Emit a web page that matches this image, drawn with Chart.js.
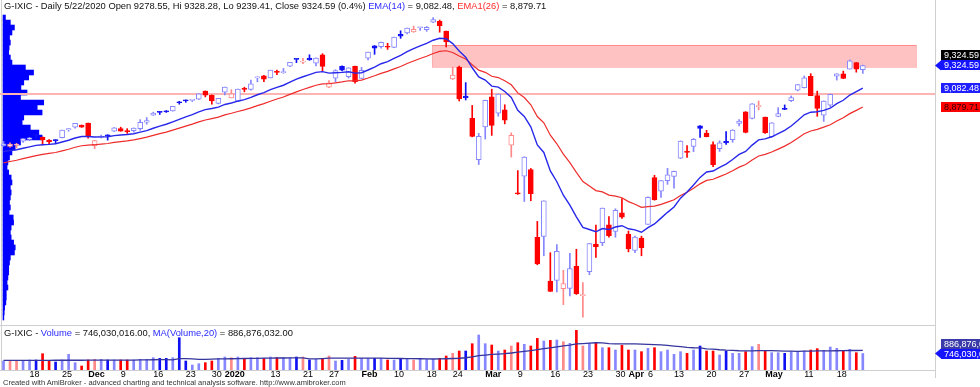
<!DOCTYPE html>
<html>
<head>
<meta charset="utf-8">
<title>G-IXIC Daily</title>
<script src="https://cdn.jsdelivr.net/npm/chart.js@4.4.1/dist/chart.umd.min.js"></script>
<style>
  body { margin: 0; background: #fff; }
  #wrap { position: relative; width: 980px; height: 387px; overflow: hidden;
          font-family: "Liberation Sans", Arial, sans-serif; }
  .pane { position: absolute; left: 0; }
  .title { position: absolute; left: 4px; font-size: 9.35px; line-height: 10px; color: #111; white-space: nowrap; }
  .rule { position: absolute; background: #cfcfcf; }
  .blue { color: #2a2aff; }
  .red  { color: #ff2a2a; }
  #footer { position: absolute; left: 3px; top: 379px; font-size: 7.5px; line-height: 8px; color: #333; white-space: nowrap; }
</style>
</head>
<body>
<div id="wrap">
  <div class="rule" style="left:1px;top:0;width:1px;height:370px"></div>
  <div class="rule" style="left:935px;top:0;width:1px;height:378px"></div>
  <div class="rule" style="left:0;top:325px;width:935px;height:1px"></div>
  <div class="rule" style="left:0;top:370px;width:935px;height:1px"></div>

  <div class="pane" style="top:12px"><canvas id="profile" width="980" height="310"></canvas></div>
  <div class="pane" style="top:12px"><canvas id="price" width="980" height="310"></canvas></div>
  <div class="pane" style="top:326px"><canvas id="volume" width="980" height="53"></canvas></div>

  <div class="title" id="priceTitle" style="top:1px"></div>
  <div class="title" style="top:328px">G-IXIC - <span class="blue">Volume</span> = 746,030,016.00, <span class="blue">MA(Volume,20)</span> = 886,876,032.00</div>
  <div id="footer">Created with AmiBroker - advanced charting and technical analysis software. http://www.amibroker.com</div>
</div>

<script>
/* ── Data ── */
const dates = [
  '11/12','11/13','11/14','11/15','11/18','11/19','11/20','11/21','11/22','11/25','11/26','11/27','11/29',
  '12/2','12/3','12/4','12/5','12/6','12/9','12/10','12/11','12/12','12/13','12/16','12/17','12/18','12/19','12/20','12/23','12/24','12/26','12/27','12/30','12/31',
  '1/2','1/3','1/6','1/7','1/8','1/9','1/10','1/13','1/14','1/15','1/16','1/17','1/21','1/22','1/23','1/24','1/27','1/28','1/29','1/30','1/31',
  '2/3','2/4','2/5','2/6','2/7','2/10','2/11','2/12','2/13','2/14','2/18','2/19','2/20','2/21','2/24','2/25','2/26','2/27','2/28',
  '3/2','3/3','3/4','3/5','3/6','3/9','3/10','3/11','3/12','3/13','3/16','3/17','3/18','3/19','3/20','3/23','3/24','3/25','3/26','3/27','3/30','3/31',
  '4/1','4/2','4/3','4/6','4/7','4/8','4/9','4/13','4/14','4/15','4/16','4/17','4/20','4/21','4/22','4/23','4/24','4/27','4/28','4/29','4/30',
  '5/1','5/4','5/5','5/6','5/7','5/8','5/11','5/12','5/13','5/14','5/15','5/18','5/19','5/20','5/21','5/22'
];

const opens = [
  8466,8457,8470,8515,8533,8577,8556,8527,8528,8551,
  8634,8665,8685,8707,8465,8558,8580,8621,8648,8622,
  8626,8649,8717,8793,8829,8836,8838,8930,8950,8950,
  8963,9050,9005,8919,9039,8977,8944,9071,9069,9190,
  9213,9191,9253,9248,9316,9392,9360,9403,9350,9438,
  9093,9189,9315,9204,9315,9187,9403,9536,9527,9527,
  9518,9659,9673,9683,9728,9708,9788,9798,9692,9180,
  9306,8998,8758,8316,8667,8988,8815,8850,8470,7960,
  8139,8211,7484,7494,7016,7024,6934,6937,7175,6861,
  7117,7413,7427,7618,7549,7747,7519,7344,7476,7622,
  8124,7979,8092,8136,8331,8396,8457,8677,8602,8477,
  8435,8513,8529,8703,8829,8757,8884,8773,8563,8780,
  8863,8947,9060,9086,9209,9002,8792,8900,9211,9234,
  9286,9356,9278.55
];
const highs = [
  8511,8496,8491,8541,8554,8590,8560,8531,8530,8633,
  8648,8706,8687,8709,8523,8580,8583,8660,8664,8648,
  8656,8744,8767,8824,8830,8842,8887,8941,8956,8953,
  9023,9052,9009,8973,9093,9065,9072,9092,9168,9204,
  9219,9274,9275,9293,9358,9393,9401,9439,9405,9451,
  9163,9279,9320,9300,9317,9303,9468,9538,9574,9562,
  9629,9696,9725,9746,9732,9742,9838,9811,9693,9307,
  9318,9141,8897,8597,8953,9070,9019,8904,8603,8199,
  8347,8222,7655,7875,7320,7407,7131,7314,7357,6999,
  7419,7615,7798,7706,7790,7900,7552,7497,7497,7919,
  8149,8091,8224,8195,8517,8466,8543,8680,8630,8508,
  8518,8618,8637,8744,8830,8916,8944,8773,8712,8873,
  8902,8998,9122,9212,9237,9050,8946,9018,9236,9264,
  9384,9357,9328.28
];
const lows = [
  8459,8451,8443,8502,8520,8543,8475,8478,8489,8550,
  8621,8654,8661,8546,8435,8549,8525,8618,8620,8597,
  8611,8631,8696,8790,8800,8822,8835,8910,8931,8938,
  8960,8988,8910,8913,9010,8977,8943,9042,9059,9149,
  9150,9190,9225,9241,9311,9355,9345,9380,9320,9263,
  9088,9151,9266,9190,9134,9184,9383,9444,9509,9497,
  9514,9615,9661,9680,9701,9690,9784,9681,9522,9173,
  8944,8955,8560,8264,8537,8576,8782,8699,8344,7944,
  7868,7876,7191,7287,6904,6900,6764,6858,6873,6631,
  7084,7269,7396,7485,7485,7687,7329,7319,7287,7622,
  7882,7913,8052,8012,8328,8340,8402,8555,8560,8242,
  8404,8480,8502,8676,8603,8753,8849,8598,8555,8776,
  8851,8938,9052,9083,9001,8780,8726,8882,9168,9183,
  9286,9253,9239.41
];
const closes = [
  8486,8482,8479,8541,8550,8571,8527,8506,8520,8632,
  8648,8705,8665,8568,8521,8567,8571,8657,8622,8616,
  8654,8717,8735,8815,8823,8827,8887,8925,8945,8952,
  9022,9007,8945,8973,9093,9021,9071,9069,9129,9203,
  9179,9274,9251,9259,9357,9389,9370,9383,9403,9315,
  9139,9270,9275,9299,9151,9273,9467,9509,9572,9520,
  9629,9638,9725,9712,9731,9733,9817,9751,9577,9221,
  8966,8980,8566,8567,8952,8684,9019,8738,8576,7950,
  8344,7953,7201,7875,6905,7335,6990,7151,6880,6861,
  7418,7385,7798,7502,7774,7700,7361,7487,7373,7913,
  7887,8091,8153,8192,8516,8394,8533,8650,8561,8263,
  8495,8495,8634,8730,8608,8915,8890,8605,8711,8810,
  8855,8980,9121,9192,9002,8864,8943,9015,9234,9185,
  9375,9284,9324.59
];

// EMA(14) and EMA1(26) as plotted
const ema14 = [
  8403,8413,8422,8438,8453,8469,8476,8480,8486,8505,
  8524,8548,8564,8564,8559,8560,8561,8574,8580,8585,
  8594,8611,8627,8652,8675,8695,8721,8748,8774,8798,
  8828,8852,8864,8879,8907,8923,8942,8959,8982,9011,
  9034,9066,9090,9113,9145,9178,9204,9227,9251,9259,
  9243,9247,9251,9257,9243,9247,9276,9307,9343,9366,
  9401,9433,9472,9504,9534,9561,9595,9616,9611,9559,
  9480,9413,9300,9202,9169,9104,9093,9046,8983,8845,
  8779,8668,8473,8393,8195,8080,7935,7830,7704,7591,
  7568,7544,7578,7568,7595,7609,7576,7564,7539,7588,
  7628,7690,7752,7810,7904,7970,8045,8126,8184,8194,
  8234,8269,8318,8373,8404,8472,8528,8538,8561,8595,
  8629,8676,8735,8796,8824,8829,8844,8867,8916,8952,
  9008,9045,9082.48
];
const ema26 = [
  8281,8296,8310,8327,8343,8360,8373,8383,8393,8410,
  8428,8449,8465,8472,8476,8483,8489,8502,8510,8518,
  8528,8542,8557,8576,8594,8611,8632,8653,8675,8696,
  8720,8741,8756,8772,8796,8813,8832,8849,8870,8895,
  8916,8942,8965,8987,9015,9042,9067,9090,9113,9128,
  9129,9139,9149,9161,9160,9168,9190,9214,9240,9261,
  9288,9314,9345,9372,9399,9423,9453,9475,9482,9463,
  9426,9393,9332,9275,9251,9209,9195,9161,9118,9031,
  8981,8904,8778,8711,8578,8486,8375,8284,8180,8082,
  8033,7985,7971,7937,7925,7908,7867,7839,7805,7813,
  7818,7838,7862,7886,7933,7967,8009,8057,8094,8106,
  8135,8162,8197,8236,8264,8312,8355,8373,8398,8429,
  8461,8499,8545,8593,8623,8641,8664,8690,8730,8764,
  8809,8844,8879.71
];

// Volume, millions of shares
const volumes = [
  407,407,437,422,452,452,738,407,362,452,
  708,331,181,452,482,482,452,452,452,452,
  452,482,482,557,527,527,557,1461,407,226,
  286,331,407,527,588,557,588,527,557,557,
  527,588,557,557,557,588,588,452,482,527,
  633,407,437,482,618,527,527,527,527,452,
  452,482,527,452,482,482,482,527,633,753,
  859,859,1190,1582,1190,1130,859,904,1085,1235,
  1160,1085,1431,1311,1341,1356,1281,1205,1793,1085,
  1205,1235,1009,1009,904,1115,904,904,829,979,
  1009,829,904,708,829,753,904,1085,859,859,
  678,859,753,753,829,1055,1160,859,783,783,
  753,829,829,859,904,964,889,1040,979,889,
  934,783,746.030016
];
const volumeMA = [
  434,435,435,436,436,437,438,439,440,440,
  441,442,442,443,444,445,446,447,448,449,
  451,455,457,464,468,472,462,515,517,506,
  485,485,496,500,505,509,516,520,525,530,
  534,539,543,543,544,548,549,499,502,517,
  535,539,540,538,539,538,535,535,533,528,
  524,519,517,512,508,503,498,502,509,520,
  532,554,592,647,676,706,722,741,769,808,
  844,874,919,962,1005,1049,1089,1122,1180,1197,
  1214,1233,1224,1195,1181,1180,1183,1183,1170,1157,
  1150,1137,1110,1080,1055,1024,1006,1000,953,942,
  915,896,884,871,867,864,877,875,872,863,
  850,850,846,854,857,868,867,865,871,872,
  885,881,886.876032
];

// date-axis labels
const tickDates = ['11/18','11/25','12/2','12/9','12/16','12/23','12/30','1/2','1/13','1/21','1/27',
  '2/3','2/10','2/18','2/24','3/2','3/9','3/16','3/23','3/30','4/1','4/6','4/13','4/20','4/27','5/1','5/11','5/18'];
const tickText  = ['18','25','Dec','9','16','23','30','2020','13','21','27',
  'Feb','10','18','24','Mar','9','16','23','30','Apr','6','13','20','27','May','11','18'];

// volume-at-price profile (left edge): price levels and relative volume
const profileLevels = [
  9838,9784,9731,9677,9624,9570,9517,9463,9410,9356,9303,9249,9196,9142,9089,9035,8982,8928,8875,8821,
  8767,8714,8660,8607,8553,8500,8446,8393,8339,8286,8232,8179,8125,8072,8018,7965,7911,7857,7804,7750,
  7697,7643,7590,7536,7483,7429,7376,7322,7268,7215,7161,7108,7054,7001,6947,6894,6840,6787,6733,6680,6626
];
const profileVolume = [
  6,18,28,22,16,18,15,14,18,22,55,75,63,51,44,59,43,100,84,96,
  51,47,67,88,96,43,30,22,16,12,10,14,20,22,18,20,18,16,18,15,
  25,26,20,18,20,26,30,28,18,16,14,14,12,10,12,8,8,7,4,3,2
];

// shaded zone and horizontal level
const zoneFrom = 65.85, zoneTo = 140.2, zoneLow = 9308, zoneHigh = 9544;
const levelPrice = 9020;

/* ── Layout constants ── */
const X_MIN = -0.54, X_MAX = 143.09;
const P_MIN = 6578, P_MAX = 9897;
const VOL_MAX = 1990;
const PROF_MIN = -7.4, PROF_MAX = 2290;
const FONT = '"Liberation Sans", Arial, sans-serif';

const LIGHT_BLUE = '#8686ff', DARK_BLUE = '#1010f4', LIGHT_RED = '#ff8888', DARK_RED = '#ff0000';

const idx = dates.map((d, i) => i);
const N = idx.length;

function barColor(i) {
  const prev = i > 0 ? closes[i - 1] : opens[i];
  const up = closes[i] >= prev;
  const hollow = closes[i] >= opens[i];
  if (up) return hollow ? LIGHT_BLUE : DARK_BLUE;
  return hollow ? LIGHT_RED : DARK_RED;
}

const fmt2 = v => v.toLocaleString('en-US', { minimumFractionDigits: 2, maximumFractionDigits: 2 });

/* ── Titles ── */
const last = N - 1;
const pct = ((closes[last] / closes[last - 1] - 1) * 100).toFixed(1);
document.getElementById('priceTitle').innerHTML =
  `G-IXIC - Daily 5/22/2020 Open ${opens[last]}, Hi ${highs[last]}, Lo ${lows[last]}, Close ${closes[last]} (${pct}%) ` +
  `<span class="blue">EMA(14)</span> = ${fmt2(ema14[last])}, <span class="red">EMA1(26)</span> = ${fmt2(ema26[last])}`;

/* ── Value tags on the right ── */
function tag(ctx, left, yc, text, bg, fg, arrow) {
  const h = 10;
  ctx.fillStyle = bg;
  ctx.fillRect(left, Math.round(yc - h / 2), 80, h);
  if (arrow) {
    ctx.beginPath();
    ctx.moveTo(left - 6, yc);
    ctx.lineTo(left, yc - h / 2);
    ctx.lineTo(left, yc + h / 2);
    ctx.closePath();
    ctx.fill();
  }
  ctx.fillStyle = fg;
  ctx.font = '9px ' + FONT;
  ctx.textBaseline = 'middle';
  ctx.textAlign = 'left';
  ctx.fillText(text, left + 3, Math.round(yc - h / 2) + h / 2 + 0.5);
}

const zonePlugin = {
  id: 'zone',
  beforeDatasetsDraw(chart) {
    const { ctx, scales: { x, y } } = chart;
    const x0 = x.getPixelForValue(zoneFrom), x1 = x.getPixelForValue(zoneTo);
    const y0 = y.getPixelForValue(zoneHigh), y1 = y.getPixelForValue(zoneLow);
    ctx.save();
    ctx.fillStyle = '#ffc2c2';
    ctx.fillRect(x0, y0, x1 - x0, y1 - y0);
    ctx.strokeStyle = '#ff8a8a';
    ctx.lineWidth = 1;
    ctx.setLineDash([1, 1]);
    ctx.strokeRect(Math.round(x0) + 0.5, Math.round(y0) + 0.5, Math.round(x1 - x0), Math.round(y1 - y0));
    ctx.setLineDash([]);
    ctx.beginPath();
    ctx.moveTo(x0, Math.round(y0) + 0.5);
    ctx.lineTo(x1, Math.round(y0) + 0.5);
    ctx.stroke();
    ctx.restore();
  }
};

const priceTags = {
  id: 'priceTags',
  afterDraw(chart) {
    const { ctx, chartArea, scales: { y } } = chart;
    const left = chartArea.right + 6;
    ctx.save();
    const yc = y.getPixelForValue(closes[last]);
    tag(ctx, left, yc - 10, fmt2(closes[last]), '#000000', '#ffffff', false);
    tag(ctx, left, yc, fmt2(closes[last]), '#1414ff', '#ffffff', true);
    tag(ctx, left, y.getPixelForValue(ema14[last]), fmt2(ema14[last]), '#1f1fff', '#ffffff', false);
    tag(ctx, left, y.getPixelForValue(ema26[last]), fmt2(ema26[last]), '#ff0000', '#300000', false);
    ctx.restore();
  }
};

const volumeTags = {
  id: 'volumeTags',
  afterDraw(chart) {
    const { ctx, chartArea, scales: { y } } = chart;
    const left = chartArea.right + 6;
    ctx.save();
    const yv = y.getPixelForValue(volumes[last]);
    const ym = Math.min(y.getPixelForValue(volumeMA[last]), yv - 10);
    tag(ctx, left, ym, fmt2(volumeMA[last] * 1e6), '#3a3aa8', '#ffffff', false);
    tag(ctx, left, yv, fmt2(volumes[last] * 1e6), '#1414ff', '#ffffff', true);
    ctx.restore();
  }
};

/* ── Volume-at-price profile ── */
new Chart(document.getElementById('profile'), {
  type: 'bar',
  data: {
    datasets: [{
      data: profileLevels.map((p, i) => ({ y: p, x: profileVolume[i] })),
      backgroundColor: '#0000ff',
      borderWidth: 0,
      barPercentage: 1,
      categoryPercentage: 1
    }]
  },
  options: {
    indexAxis: 'y',
    responsive: false,
    animation: false,
    layout: { padding: { left: 0, right: 45, top: 0, bottom: 0 } },
    plugins: { legend: { display: false }, tooltip: { enabled: false } },
    scales: {
      y: { type: 'linear', min: P_MIN, max: P_MAX, offset: false, display: false },
      x: { type: 'linear', min: PROF_MIN, max: PROF_MAX, display: false }
    }
  }
});

/* ── Price chart ── */
new Chart(document.getElementById('price'), {
  type: 'bar',
  data: {
    datasets: [
      {
        type: 'line', label: 'EMA(14)', order: 0,
        data: idx.map(i => ({ x: i, y: ema14[i] })),
        borderColor: '#2828ea', borderWidth: 1.4, pointRadius: 0, tension: 0
      },
      {
        type: 'line', label: 'EMA1(26)', order: 0,
        data: idx.map(i => ({ x: i, y: ema26[i] })),
        borderColor: '#ee2c2c', borderWidth: 1.2, pointRadius: 0, tension: 0
      },
      {
        type: 'bar', label: 'body', order: 1, grouped: false,
        barThickness: 5, minBarLength: 1,
        data: idx.map(i => ({ x: i, y: [opens[i], closes[i]] })),
        backgroundColor: idx.map(i => closes[i] >= opens[i] ? '#ffffff' : barColor(i)),
        borderColor: idx.map(barColor),
        borderWidth: 1, borderSkipped: false
      },
      {
        type: 'bar', label: 'wick', order: 2, grouped: false,
        barThickness: 1,
        data: idx.map(i => ({ x: i, y: [lows[i], highs[i]] })),
        backgroundColor: idx.map(barColor),
        borderWidth: 0
      },
      {
        type: 'line', label: 'level', order: 3,
        data: [{ x: X_MIN, y: levelPrice }, { x: X_MAX, y: levelPrice }],
        borderColor: '#ffb4b4', borderWidth: 2, pointRadius: 0
      }
    ]
  },
  options: {
    responsive: false,
    animation: false,
    layout: { padding: { left: 0, right: 45, top: 0, bottom: 0 } },
    plugins: { legend: { display: false }, tooltip: { enabled: false } },
    scales: {
      x: { type: 'linear', min: X_MIN, max: X_MAX, offset: false, display: false },
      y: { type: 'linear', min: P_MIN, max: P_MAX, display: false }
    }
  },
  plugins: [zonePlugin, priceTags]
});

/* ── Volume chart ── */
const tickIdx = tickDates.map(d => dates.indexOf(d));

new Chart(document.getElementById('volume'), {
  type: 'bar',
  data: {
    datasets: [
      {
        type: 'line', label: 'MA(Volume,20)', order: 0,
        data: idx.map(i => ({ x: i, y: volumeMA[i] })),
        borderColor: '#35359e', borderWidth: 1.3, pointRadius: 0, tension: 0
      },
      {
        type: 'bar', label: 'Volume', order: 1, grouped: false,
        barThickness: 2,
        data: idx.map(i => ({ x: i, y: volumes[i] })),
        backgroundColor: idx.map(barColor),
        borderWidth: 0
      }
    ]
  },
  options: {
    responsive: false,
    animation: false,
    layout: { padding: { left: 0, right: 45, top: 0, bottom: 0 } },
    plugins: { legend: { display: false }, tooltip: { enabled: false } },
    scales: {
      x: {
        type: 'linear', min: X_MIN, max: X_MAX, offset: false,
        grid: { display: false, drawTicks: false },
        border: { display: false },
        afterBuildTicks: axis => { axis.ticks = tickIdx.map(v => ({ value: v })); },
        ticks: {
          autoSkip: false, maxRotation: 0, minRotation: 0,
          align: 'start', padding: 0, color: '#000',
          font: c => ({ family: FONT, size: 9, lineHeight: 1,
                        weight: /^\d{1,2}$/.test(tickText[c.index]) ? 'normal' : 'bold' }),
          callback: (v, i) => tickText[i]
        }
      },
      y: { type: 'linear', min: 0, max: VOL_MAX, display: false }
    }
  },
  plugins: [volumeTags]
});
</script>
</body>
</html>
